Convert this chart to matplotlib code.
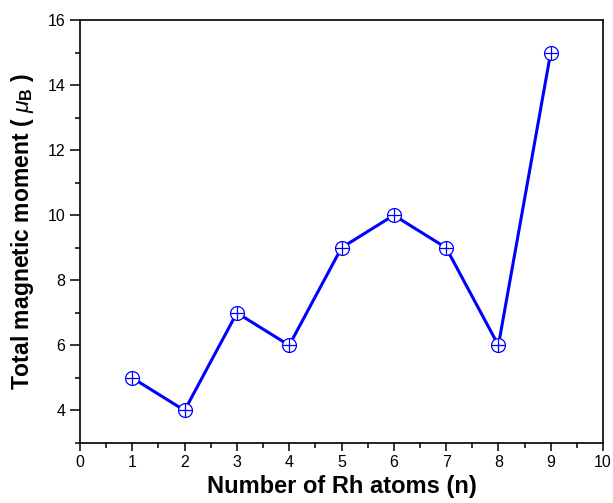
import matplotlib.pyplot as plt
from matplotlib.ticker import MultipleLocator

plt.rcParams["font.family"] = ["Liberation Sans", "DejaVu Sans"]
plt.rcParams["mathtext.fontset"] = "custom"
plt.rcParams["mathtext.rm"] = "Liberation Sans"
plt.rcParams["mathtext.it"] = "Liberation Sans:italic"
plt.rcParams["mathtext.bf"] = "Liberation Sans:bold"

# Total magnetic moment per Rh cluster size
n_atoms = [1, 2, 3, 4, 5, 6, 7, 8, 9]
moment = [5, 4, 7, 6, 9, 10, 9, 6, 15]

BLUE = "#0000ff"

fig = plt.figure(figsize=(6.13, 5.03), dpi=100)
ax = fig.add_axes([0.1305, 0.1193, 0.8532, 0.8409])

ax.plot(n_atoms, moment, color=BLUE, lw=2.2, marker="o", markersize=10,
        markerfacecolor="white", markeredgecolor=BLUE, markeredgewidth=0.9,
        zorder=2)
ax.plot(n_atoms, moment, linestyle="None", marker="+", markersize=10,
        markeredgecolor=BLUE, markeredgewidth=0.9, zorder=3)

ax.set_xlim(0, 10)
ax.set_ylim(3, 16)
ax.xaxis.set_major_locator(MultipleLocator(1))
ax.xaxis.set_minor_locator(MultipleLocator(0.5))
ax.yaxis.set_minor_locator(MultipleLocator(1))
ax.set_yticks([4, 6, 8, 10, 12, 14, 16])

ax.tick_params(which="both", direction="out", width=1.1, labelsize=11.5,
               top=False, right=False)
ax.tick_params(axis="y", which="major", length=7.5, pad=3)
ax.tick_params(axis="y", which="minor", length=3.5)
ax.tick_params(axis="x", which="major", length=5.5, pad=3)
ax.tick_params(axis="x", which="minor", length=3.5)
for spine in ax.spines.values():
    spine.set_linewidth(1.2)

ax.set_xlabel("Number of Rh atoms (n)", fontsize=17, fontweight="bold",
              labelpad=4)
ax.set_ylabel(r"Total magnetic moment ( $\mathit{\mu}_\mathbf{B}$ )",
              fontsize=16.5, fontweight="bold", labelpad=8)

fig.savefig("out.png", dpi=100)
